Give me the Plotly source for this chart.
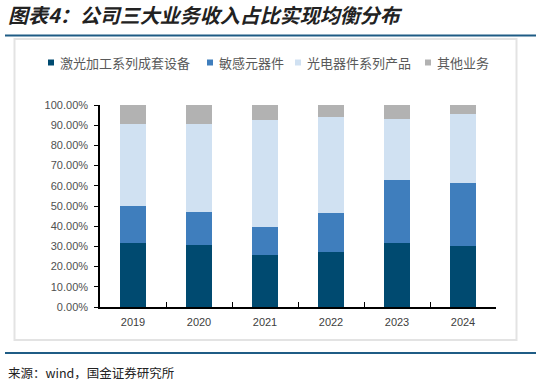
import plotly.graph_objects as go

years = ["2019", "2020", "2021", "2022", "2023", "2024"]
series_names = ["激光加工系列成套设备", "敏感元器件", "光电器件系列产品", "其他业务"]
laser = [31.6, 30.7, 25.8, 27.1, 31.6, 30.2]
sensor = [18.5, 16.4, 14.0, 19.5, 31.2, 31.1]
optic = [40.3, 43.3, 52.8, 47.6, 30.4, 34.2]
other = [9.6, 9.6, 7.4, 5.8, 6.8, 4.5]
colors = ["#004A70", "#3F7EBD", "#D0E1F2", "#B2B2B2"]
legend_marker_x = [48, 207, 295, 425]

W, H = 541, 385
L, R, T, B = 100, 45, 105, 78
pw, ph = W - L - R, H - T - B

def px(x):
    return (x - L) / pw

def py(y):
    return (H - B - y) / ph

fig = go.Figure()
for name, vals, c in zip(series_names, [laser, sensor, optic, other], colors):
    fig.add_trace(go.Bar(x=years, y=vals, name=name, marker=dict(color=c, line=dict(width=0)),
                         width=0.4, showlegend=False))

font_cjk = "Noto Sans CJK SC, Liberation Sans, sans-serif"
fig.update_layout(
    barmode="stack",
    width=W, height=H,
    margin=dict(l=L, r=R, t=T, b=B, autoexpand=False),
    paper_bgcolor="white", plot_bgcolor="white",
    showlegend=False,
)
fig.update_xaxes(type="category", showline=True, linecolor="black", linewidth=1.5,
                 ticks="inside", tickson="boundaries", ticklen=5, tickcolor="black",
                 ticklabelstandoff=4,
                 tickfont=dict(family="Liberation Sans, Arial, sans-serif", size=11, color="#404040"),
                 showgrid=False, automargin=False)
fig.update_yaxes(range=[0, 100], dtick=10, ticksuffix="%", tickformat=".2f",
                 showline=True, linecolor="black", linewidth=1.5,
                 ticks="outside", ticklen=4, tickcolor="black",
                 ticklabelstandoff=4,
                 tickfont=dict(family="Liberation Sans, Arial, sans-serif", size=11, color="#505050"),
                 showgrid=False, zeroline=False, automargin=False)

shapes = [
    dict(type="rect", xref="paper", yref="paper", x0=px(14.5), x1=px(516.5), y0=py(340), y1=py(39),
         line=dict(color="#E3E3E3", width=2), layer="below"),
    dict(type="line", xref="paper", yref="paper", x0=px(5), x1=px(536), y0=py(35.5), y1=py(35.5),
         line=dict(color="#1F5C85", width=2)),
    dict(type="line", xref="paper", yref="paper", x0=px(5), x1=px(536), y0=py(353), y1=py(353),
         line=dict(color="#1F5C85", width=2)),
]
# legend: small squares + text
for name, c, mx in zip(series_names, colors, legend_marker_x):
    shapes.append(dict(type="rect", xref="paper", yref="paper", x0=px(mx), x1=px(mx + 6),
                       y0=py(65.5), y1=py(59.5), fillcolor=c, line=dict(width=0)))
    fig.add_annotation(text=name, xref="paper", yref="paper", x=px(mx + 10), y=py(62.5),
                       xanchor="left", yanchor="middle", showarrow=False,
                       font=dict(family=font_cjk, size=13, color="#595959"))
fig.update_layout(shapes=shapes)

fig.add_annotation(text="<b><i>图表4：公司三大业务收入占比实现均衡分布</i></b>", xref="paper", yref="paper",
                   x=px(6), y=py(14), xanchor="left", yanchor="middle", showarrow=False,
                   font=dict(family=font_cjk, size=20, color="#222222"))
fig.add_annotation(text="来源：wind，国金证券研究所", xref="paper", yref="paper",
                   x=px(6), y=py(372), xanchor="left", yanchor="middle", showarrow=False,
                   font=dict(family=font_cjk, size=12.5, color="#222222"))

fig.write_html("out.html", config={"displayModeBar": False},
               post_script="document.body.style.margin='0';document.body.style.overflow='hidden';")
